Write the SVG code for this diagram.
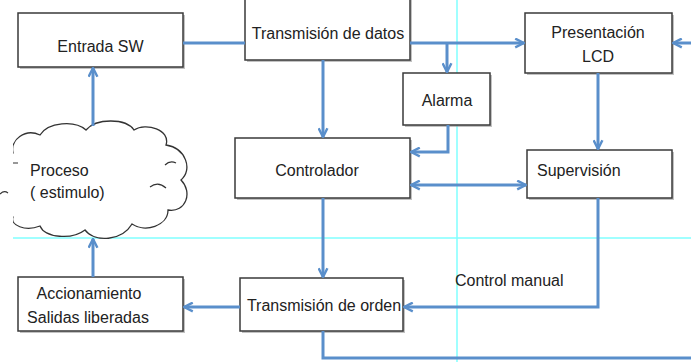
<svg xmlns="http://www.w3.org/2000/svg" width="691" height="362" viewBox="0 0 691 362">
<style>
.box{fill:#fff;stroke:#3a3a3a;stroke-width:1.5}
.sh{fill:#9a9a9a;opacity:0.6}
.t{font-family:"Liberation Sans",Arial,sans-serif;font-size:16px;fill:#222}
.c{fill:none;stroke:#5A8FCB;stroke-width:3}
.guide{stroke:#80FFFF;stroke-width:1.5;fill:none}
</style>
<defs>
<marker id="ah" viewBox="0 0 10 10" refX="9" refY="5" markerWidth="11" markerHeight="11" markerUnits="userSpaceOnUse" orient="auto-start-reverse">
<path d="M1,1 L9,5 L1,9" fill="none" stroke="#5A8FCB" stroke-width="2.2"/>
</marker>
<clipPath id="clip"><rect x="13" y="0" width="200" height="362"/></clipPath>
</defs>
<rect width="691" height="362" fill="#fff"/>
<g id="guides">
<line class="guide" x1="457" y1="0" x2="457" y2="362"/>
<line class="guide" x1="13" y1="238" x2="691" y2="238"/>
</g>
<g id="proceso">
<path clip-path="url(#clip)" fill="#fff" stroke="#333" stroke-width="1.3" d="M13 153 C10 140,25 128,40 135 C48 122,75 120,86 130 C96 118,126 118,134 130 C146 122,171 130,166 145 C186 148,193 170,181 180 C193 192,186 213,168 210 C168 226,145 233,132 224 C122 241,95 243,85 230 C72 240,45 238,40 226 C25 232,10 225,13 217 C-5 210,-10 160,13 153 Z"/>
<path d="M150 187 Q158 181 166 188 M165 165 Q170 160 176 163 M18 163 L13 163" fill="none" stroke="#333" stroke-width="1.2"/>
<path d="M0 194 Q4 190 8 193" fill="none" stroke="#333" stroke-width="1.2"/>
<text class="t" x="30" y="176">Proceso</text>
<text class="t" x="30" y="198">( estimulo)</text>
</g>
<g id="entrada">
<rect class="sh" x="20" y="15" width="165" height="54"/>
<rect class="box" x="18" y="13" width="165" height="54"/>
<text class="t" x="100.5" y="52" text-anchor="middle">Entrada SW</text>
</g>
<g id="transmision-datos">
<rect class="sh" x="247" y="0" width="165" height="62"/>
<rect class="box" x="245" y="-2" width="165" height="62"/>
<text class="t" x="328" y="39" text-anchor="middle">Transmisión de datos</text>
</g>
<g id="presentacion">
<rect class="sh" x="527" y="15" width="147" height="60"/>
<rect class="box" x="525" y="13" width="147" height="60"/>
<text class="t" x="598" y="38" text-anchor="middle">Presentación</text>
<text class="t" x="598" y="62" text-anchor="middle">LCD</text>
</g>
<g id="alarma">
<rect class="sh" x="405" y="75" width="87" height="52"/>
<rect class="box" x="403" y="73" width="87" height="52"/>
<text class="t" x="447" y="106" text-anchor="middle">Alarma</text>
</g>
<g id="controlador">
<rect class="sh" x="237" y="140" width="175" height="60"/>
<rect class="box" x="235" y="138" width="175" height="60"/>
<text class="t" x="317" y="176" text-anchor="middle">Controlador</text>
</g>
<g id="supervision">
<rect class="sh" x="529" y="152" width="145" height="48"/>
<rect class="box" x="527" y="150" width="145" height="48"/>
<text class="t" x="537" y="176">Supervisión</text>
</g>
<g id="accionamiento">
<rect class="sh" x="20" y="279" width="165" height="54"/>
<rect class="box" x="18" y="277" width="165" height="54"/>
<text class="t" x="89" y="299" text-anchor="middle">Accionamiento</text>
<text class="t" x="88" y="323" text-anchor="middle">Salidas liberadas</text>
</g>
<g id="transmision-orden">
<rect class="sh" x="242" y="280" width="163" height="53"/>
<rect class="box" x="240" y="278" width="163" height="53"/>
<text class="t" x="324" y="311" text-anchor="middle">Transmisión de orden</text>
</g>
<g id="label-control-manual">
<text class="t" x="455" y="286">Control manual</text>
</g>
<g id="connectors">
<path class="c" d="M183 43 H245"/>
<path class="c" d="M410 43 H524" marker-end="url(#ah)"/>
<path class="c" d="M447 43 V72" marker-end="url(#ah)"/>
<path class="c" d="M691 43 H673" marker-end="url(#ah)"/>
<path class="c" d="M598 73 V149" marker-end="url(#ah)"/>
<path class="c" d="M323 60 V137" marker-end="url(#ah)"/>
<path class="c" d="M448 125 V152 H411" marker-end="url(#ah)"/>
<path class="c" d="M411 185 H526" marker-start="url(#ah)" marker-end="url(#ah)"/>
<path class="c" d="M323 198 V277" marker-end="url(#ah)"/>
<path class="c" d="M598 198 V307 H404" marker-end="url(#ah)"/>
<path class="c" d="M240 307 H184" marker-end="url(#ah)"/>
<path class="c" d="M93 277 V239" marker-end="url(#ah)"/>
<path class="c" d="M93 126 V68" marker-end="url(#ah)"/>
<path class="c" d="M323 331 V358 H691"/>
</g>
</svg>
